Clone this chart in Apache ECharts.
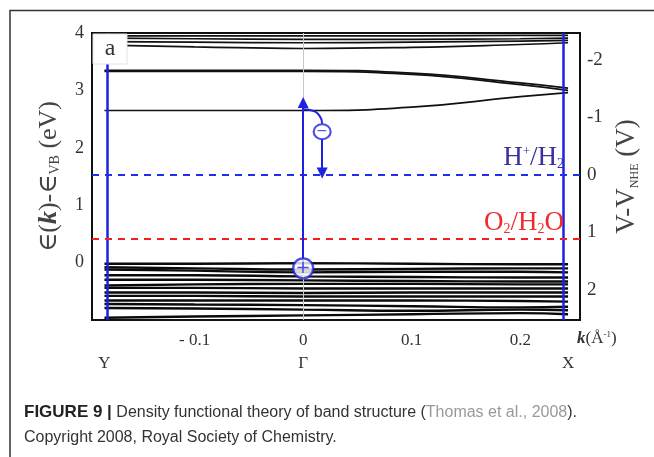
<!DOCTYPE html>
<html>
<head>
<meta charset="utf-8">
<script src="https://cdn.jsdelivr.net/npm/echarts@6/dist/echarts.min.js"></script>
<style>
  html, body { margin: 0; padding: 0; background: #fff; }
  #band-chart { width: 654px; height: 457px; }
</style>
</head>
<body>
<div id="band-chart"></div>
<script>
// k points (Å^-1) where band energies were read: Y ... Γ ... X
const kPoints = [-0.183, -0.1, 0, 0.1, 0.2, 0.244];

// energies (eV) relative to VB top, one row per band
const conductionBands = [
  [2.65, 2.65, 2.65, 2.71, 2.89, 2.96],
  [3.33, 3.33, 3.33, 3.28, 3.10, 3.00],
  [3.35, 3.35, 3.35, 3.30, 3.13, 3.04],
  [3.79, 3.76, 3.73, 3.75, 3.80, 3.83],
  [3.85, 3.84, 3.83, 3.84, 3.86, 3.87],
  [3.91, 3.90, 3.89, 3.89, 3.90, 3.91],
  [3.95, 3.95, 3.95, 3.95, 3.96, 3.96],
];
const valenceBands = [
  [-0.02, -0.02, -0.01, -0.02, -0.03, -0.03],
  [-0.08, -0.10, -0.12, -0.11, -0.10, -0.10],
  [-0.12, -0.14, -0.17, -0.16, -0.16, -0.17],
  [-0.22, -0.22, -0.24, -0.25, -0.26, -0.26],
  [-0.30, -0.30, -0.31, -0.32, -0.33, -0.33],
  [-0.40, -0.38, -0.37, -0.37, -0.38, -0.38],
  [-0.44, -0.44, -0.45, -0.45, -0.45, -0.45],
  [-0.52, -0.52, -0.53, -0.52, -0.52, -0.52],
  [-0.58, -0.58, -0.59, -0.59, -0.59, -0.59],
  [-0.66, -0.66, -0.66, -0.66, -0.67, -0.68],
  [-0.72, -0.73, -0.74, -0.76, -0.78, -0.77],
  [-0.79, -0.80, -0.82, -0.84, -0.82, -0.83],
  [-0.96, -0.94, -0.92, -0.90, -0.88, -0.90],
];

const xTicks = [-0.1, 0, 0.1, 0.2];
const xTickLabels = ['- 0.1', '0', '0.1', '0.2'];
const symmetryK = [-0.183, 0, 0.244];
const symmetryLabels = ['Y', 'Γ', 'X'];
const energyTicks = [0, 1, 2, 3, 4];
const potentialTicks = [-2, -1, 0, 1, 2];

// redox levels on the V vs NHE scale
const redoxLevels = [0, 1.12];
const redoxLabels = ['H{sup|+}/H{sub|2}', 'O{sub|2}/H{sub|2}O'];
const redoxColors = ['#1f2ff0', '#f02020'];
const redoxTextColors = ['#3a2f9e', '#f02a2a'];

// photo-excitation sketch
const holePoint = [0, -0.1];
const electronPoint = [0.0175, 2.28];
const excitation = [[0, -0.1], [0, 2.79]];
const electronCurve = [[0.0, 2.67], [0.008, 2.65], [0.015, 2.56], [0.0175, 2.42]];
const electronDrop = [[0.0175, 2.15], [0.0175, 1.56]];

const BLUE = '#2020e0';
const SERIF = '"Liberation Serif", "DejaVu Serif", serif';
const SANS = '"Liberation Sans", Arial, sans-serif';

const bandSeries = conductionBands.map((row) => ({
  type: 'line',
  data: row.map((e, i) => [kPoints[i], e]),
  smooth: true,
  symbol: 'none',
  silent: true,
  z: 3,
  lineStyle: { color: '#111', width: 1.7 },
})).concat(valenceBands.map((row) => ({
  type: 'line',
  data: row.map((e, i) => [kPoints[i], e]),
  smooth: true,
  symbol: 'none',
  silent: true,
  z: 3,
  lineStyle: { color: '#0a0a0a', width: 2.4 },
})));

const chartDom = document.getElementById('band-chart');
const chartInstance = echarts.init(chartDom);

const option = {
  animation: false,
  backgroundColor: '#fff',
  grid: {
    left: 92,
    right: 74,
    top: 33,
    bottom: 137,
    show: true,
    borderColor: '#111',
    borderWidth: 2,
    backgroundColor: 'transparent',
  },
  xAxis: [
    {
      type: 'value',
      min: -0.1945,
      max: 0.255,
      position: 'bottom',
      axisLine: { show: false },
      axisTick: { show: false },
      splitLine: { show: false },
      axisLabel: {
        customValues: xTicks,
        formatter: (v) => xTickLabels[xTicks.indexOf(v)] ?? '',
        fontFamily: SERIF,
        fontSize: 17,
        color: '#333',
        margin: 12,
      },
    },
    {
      type: 'value',
      min: -0.1945,
      max: 0.255,
      position: 'bottom',
      offset: 23,
      axisLine: { show: false },
      axisTick: { show: false },
      splitLine: { show: false },
      axisLabel: {
        customValues: symmetryK,
        formatter: (v) => symmetryLabels[symmetryK.indexOf(v)] ?? '',
        fontFamily: SERIF,
        fontSize: 17,
        color: '#333',
        margin: 12,
      },
    },
  ],
  yAxis: [
    {
      type: 'value',
      min: -1,
      max: 4,
      interval: 1,
      axisLine: { show: false },
      axisTick: { show: false },
      splitLine: { show: false },
      axisLabel: {
        customValues: energyTicks,
        fontFamily: SERIF,
        fontSize: 18,
        color: '#333',
        margin: 8,
      },
      name: '∈({k|k})-∈{sub|VB} (eV)',
      nameLocation: 'middle',
      nameGap: 30,
      nameTextStyle: {
        fontFamily: SERIF,
        fontSize: 26,
        color: '#444',
        rich: {
          k: { fontFamily: SERIF, fontSize: 26, fontWeight: 'bold', fontStyle: 'italic', color: '#444' },
          sub: { fontFamily: SERIF, fontSize: 14, color: '#444', verticalAlign: 'bottom', padding: [9, 0, 0, 0] },
        },
      },
    },
    {
      type: 'value',
      position: 'right',
      inverse: true,
      min: -2.47,
      max: 2.53,
      axisLine: { show: false },
      axisTick: { show: false },
      splitLine: { show: false },
      axisLabel: {
        customValues: potentialTicks,
        fontFamily: SERIF,
        fontSize: 19,
        color: '#333',
        margin: 7,
      },
      name: 'V-V{sub|NHE} (V)',
      nameLocation: 'middle',
      nameGap: 32,
      nameTextStyle: {
        fontFamily: SERIF,
        fontSize: 27,
        color: '#444',
        rich: {
          sub: { fontFamily: SERIF, fontSize: 12, color: '#444', verticalAlign: 'bottom', padding: [10, 0, 0, 0] },
        },
      },
    },
  ],
  series: [
    {
      // Γ guide line and zone boundaries
      type: 'line',
      data: [],
      silent: true,
      markLine: {
        silent: true,
        symbol: 'none',
        label: { show: false },
        data: [
          { xAxis: 0, lineStyle: { color: '#c8c8c8', width: 1, type: 'solid' } },
          { xAxis: symmetryK[0], lineStyle: { color: BLUE, width: 2.5, type: 'solid' } },
          { xAxis: symmetryK[2], lineStyle: { color: BLUE, width: 2.5, type: 'solid' } },
        ],
      },
    },
    ...bandSeries,
    {
      type: 'line',
      xAxisIndex: 0,
      yAxisIndex: 1,
      data: [],
      silent: true,
      markLine: {
        silent: true,
        symbol: 'none',
        data: redoxLevels.map((v, i) => ({
          yAxis: v,
          lineStyle: { color: redoxColors[i], width: 2, type: [7, 6] },
          label: {
            show: true,
            position: 'insideEndTop',
            distance: [16, 3],
            formatter: redoxLabels[i],
            fontFamily: SERIF,
            fontSize: 27,
            color: redoxTextColors[i],
            rich: {
              sup: { fontFamily: SERIF, fontSize: 13, color: redoxTextColors[i], verticalAlign: 'top', padding: [0, 0, 12, 0] },
              sub: { fontFamily: SERIF, fontSize: 14, color: redoxTextColors[i], verticalAlign: 'bottom', padding: [12, 0, 0, 0] },
            },
          },
        })),
      },
    },
    {
      // excitation arrow, electron path
      type: 'line',
      data: electronCurve,
      smooth: true,
      symbol: 'none',
      silent: true,
      z: 5,
      lineStyle: { color: BLUE, width: 2 },
      markLine: {
        silent: true,
        symbol: ['none', 'triangle'],
        symbolSize: 11,
        label: { show: false },
        lineStyle: { color: BLUE, width: 2, type: 'solid' },
        data: [
          [{ coord: excitation[0] }, { coord: excitation[1] }],
          [{ coord: electronDrop[0] }, { coord: electronDrop[1] }],
        ],
      },
    },
    {
      type: 'scatter',
      data: [holePoint],
      symbol: 'circle',
      symbolSize: 20,
      silent: true,
      z: 6,
      itemStyle: { color: '#fff', borderColor: BLUE, borderWidth: 2.4 },
      label: { show: true, position: 'inside', formatter: '+', color: BLUE, fontSize: 18, fontFamily: 'DejaVu Sans' },
    },
    {
      type: 'scatter',
      data: [electronPoint],
      symbol: 'circle',
      symbolSize: [17, 15],
      silent: true,
      z: 6,
      itemStyle: { color: '#fff', borderColor: BLUE, borderWidth: 2 },
      label: { show: true, position: 'inside', formatter: '−', color: BLUE, fontSize: 14, fontFamily: 'DejaVu Sans' },
    },
  ],
  graphic: [
    {
      type: 'polyline',
      shape: { points: [[10, 457], [10, 10.5], [654, 10.5]] },
      style: { stroke: '#333', lineWidth: 1.5, fill: null },
      silent: true,
    },
    {
      type: 'rect',
      shape: { x: 93, y: 34, width: 34, height: 30 },
      style: { fill: '#fff', stroke: '#e2e2e2', lineWidth: 1 },
      z: 100,
      silent: true,
    },
    {
      type: 'text',
      x: 110,
      y: 49,
      z: 101,
      style: {
        text: 'a',
        font: '24px "Liberation Serif", serif',
        fill: '#333',
        align: 'center',
        verticalAlign: 'middle',
      },
      silent: true,
    },
    {
      // k-axis unit
      type: 'text',
      x: 577,
      y: 339,
      style: {
        text: '{k|k}(Å{sup|-1})',
        font: '17px "Liberation Serif", serif',
        fill: '#333',
        verticalAlign: 'middle',
        rich: {
          k: { fontFamily: SERIF, fontSize: 17, fontWeight: 'bold', fontStyle: 'italic', fill: '#333' },
          sup: { fontFamily: SERIF, fontSize: 9, fill: '#333', verticalAlign: 'top', padding: [0, 0, 6, 0] },
        },
      },
      silent: true,
    },
    {
      type: 'text',
      x: 24,
      y: 400,
      style: {
        text: '{b|FIGURE 9 |} Density functional theory of band structure ({g|Thomas et al., 2008}).\nCopyright 2008, Royal Society of Chemistry.',
        font: '16px "Liberation Sans", Arial, sans-serif',
        fill: '#333',
        lineHeight: 25,
        rich: {
          b: { fontFamily: SANS, fontSize: 17, fontWeight: 'bold', fill: '#222', lineHeight: 25 },
          g: { fontFamily: SANS, fontSize: 16, fill: '#999', lineHeight: 25 },
        },
      },
      silent: true,
    },
  ],
};

chartInstance.setOption(option);
</script>
</body>
</html>
